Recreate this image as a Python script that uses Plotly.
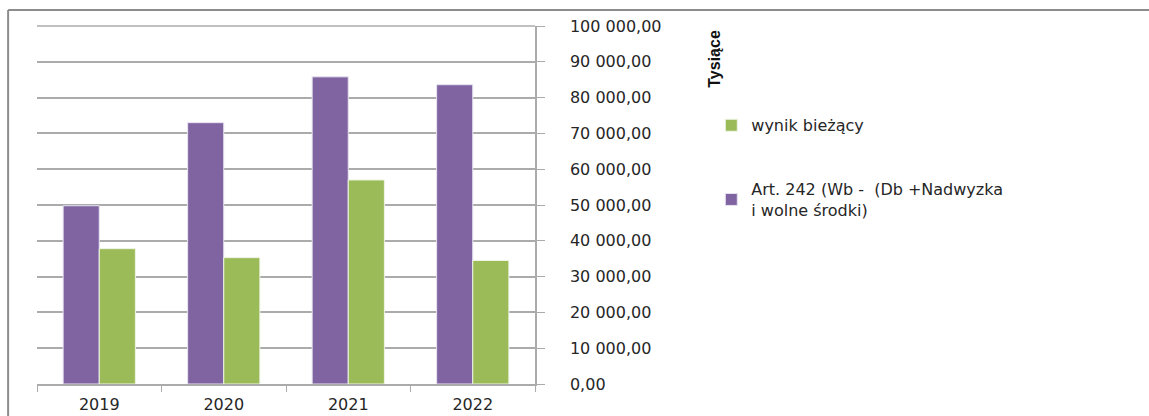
import plotly.graph_objects as go

# Data
years = ["2019", "2020", "2021", "2022"]
art_242 = [49800, 73000, 85800, 83600]
wynik_biezacy = [37800, 35300, 57000, 34500]

name_art = "Art. 242 (Wb -  (Db +Nadwyzka<br>i wolne środki)"
name_wynik = "wynik bieżący"

purple = "#8064A2"
green = "#9BBB59"
grid = "#ABABAB"
font_main = "DejaVu Sans"
txt = "#262626"

fig = go.Figure()
fig.add_trace(go.Bar(x=years, y=art_242, name=name_art, marker_color=purple,
                     marker_line=dict(color="#E8E4F0", width=1),
                     legendgroup="a", legendrank=2))
fig.add_trace(go.Bar(x=years, y=wynik_biezacy, name=name_wynik, marker_color=green,
                     marker_line=dict(color="#EEF4E4", width=1),
                     legendgroup="b", legendrank=1))

fig.update_layout(
    width=1149, height=416,
    margin=dict(l=37, r=614, t=26, b=32),
    plot_bgcolor="white", paper_bgcolor="white",
    separators=", ",
    barmode="group", bargap=0.42, bargroupgap=0,
    font=dict(family=font_main, size=16, color=txt),
    legend=dict(x=1.354, y=0.77, xanchor="left", yanchor="top",
                traceorder="grouped", tracegroupgap=40,
                font=dict(family=font_main, size=16, color=txt),
                itemwidth=30),
)

fig.update_yaxes(
    side="right", range=[0, 100000], dtick=10000, tickformat=",.2f",
    showgrid=True, gridcolor=grid, gridwidth=1.5,
    showline=True, linecolor=grid, linewidth=1.5,
    ticks="outside", ticklen=8, tickcolor=grid,
    ticklabelstandoff=22, zeroline=False, automargin=False,
    tickfont=dict(family=font_main, size=16, color=txt),
)
fig.update_xaxes(
    showline=True, linecolor=grid, linewidth=1.5,
    ticks="outside", ticklen=6, tickcolor=grid, tickson="boundaries",
    ticklabelstandoff=5, automargin=False,
    tickfont=dict(family=font_main, size=16, color=txt),
)

# top gridline at 100 000
fig.add_shape(type="line", xref="paper", yref="paper", x0=0, x1=1, y0=1, y1=1,
              line=dict(color=grid, width=1.5), layer="below")

# axis unit label
fig.add_annotation(text="<b>Tysiące</b>", textangle=-90, xref="paper", yref="paper",
                   x=1.361, y=0.908, xanchor="center", yanchor="middle", showarrow=False,
                   font=dict(family="Liberation Sans Narrow, Liberation Sans", size=16, color="#111111"))

# outer chart frame, only left and top edges show
frame = dict(color="#8C8C8C", width=2)
fig.add_shape(type="line", xref="paper", yref="paper",
              x0=-0.058, y0=-0.09, x1=-0.058, y1=1.045, line=frame)
fig.add_shape(type="line", xref="paper", yref="paper",
              x0=-0.058, y0=1.045, x1=2.233, y1=1.045, line=frame)

# drop the default page margin so the figure fills the window exactly
fig.write_html("out.html", config={"displayModeBar": False},
               post_script="document.body.style.margin='0';document.body.style.overflow='hidden';")
